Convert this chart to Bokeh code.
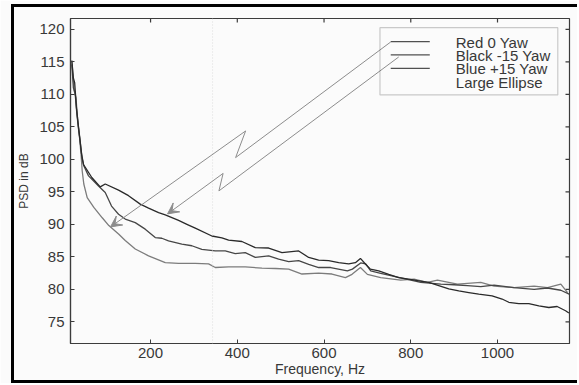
from bokeh.plotting import figure
from bokeh.models import (Range1d, FixedTicker, BoxAnnotation, Arrow,
                          VeeHead, Label, Span, InlineStyleSheet)
from bokeh.embed import file_html
from bokeh.resources import INLINE

# ---------------- data ----------------
x_ticks = [200, 400, 600, 800, 1000]
y_ticks = [75, 80, 85, 90, 95, 100, 105, 110, 115, 120]

legend_labels = ["Red 0 Yaw", "Black -15 Yaw", "Blue +15 Yaw", "Large Ellipse"]

black_hz = [18.5, 22, 25, 29, 33, 37, 41, 45.4, 64.5, 83.9, 95.5, 126.2, 149.2, 176.2,
            195.4, 218.5, 233.9, 264.6, 283.8, 303.1, 341.4, 364.5, 380, 410.6, 441.5,
            472.3, 503, 541.5, 564.6, 587.6, 610.7, 633.8, 656.9, 672.3, 683.9, 695.4,
            706.9, 726.1, 749.2, 772.2, 795.3, 818.4, 841.5, 864.5, 887.6, 910.7, 933.8,
            956.8, 987.5, 1010.6, 1026, 1049.1, 1072.2, 1095.3, 1118.3, 1137.5, 1156.9, 1164.5]
black_db = [115.2, 112.5, 111.8, 108.0, 105.5, 103.2, 100.8, 99.2, 97.2, 95.75, 96.2, 95.25,
            94.4, 93.1, 92.5, 91.8, 91.45, 90.6, 90.0, 89.4, 88.2, 87.9, 87.55, 87.35, 86.4,
            86.35, 85.65, 85.9, 84.9, 84.5, 84.4, 84.1, 83.9, 84.1, 84.75, 83.9, 83.1, 82.85,
            82.3, 81.8, 81.55, 81.3, 81.05, 80.55, 80.05, 79.75, 79.5, 79.25, 79.0, 78.5, 78.0,
            77.8, 77.8, 77.45, 77.2, 77.35, 76.7, 76.35]

blue_hz = [18.5, 22, 26, 30, 34, 38, 42, 46, 57, 80, 95.5, 110, 126.2, 141.6, 164.7, 187.7,
           210.8, 226, 241.4, 272.1, 295.2, 318.2, 349.1, 372.2, 395.2, 418.3, 441.5, 472.3,
           495.3, 518.4, 541.5, 564.6, 587.6, 615.3, 653.9, 665.4, 684.5, 696, 707.6, 730.7,
           776.9, 823, 869.2, 899.8, 930.6, 961.4, 992.1, 1038.3, 1084.4, 1115.3, 1146, 1165.2]
blue_db = [114.6, 111.0, 110.2, 107.0, 104.6, 102.5, 100.2, 99.0, 97.45, 95.9, 94.9, 92.8,
           91.55, 90.8, 90.25, 89.25, 87.95, 87.85, 87.45, 86.95, 86.7, 86.15, 85.9, 85.9,
           85.5, 85.65, 84.9, 85.15, 84.65, 84.25, 84.4, 83.85, 83.35, 83.35, 82.85, 83.1,
           84.05, 83.9, 82.85, 82.45, 81.75, 81.05, 80.8, 80.7, 80.55, 80.4, 80.65, 80.25,
           80.0, 80.2, 79.85, 79.25]

red_hz = [18.5, 21, 24, 28, 32, 36, 40, 42.4, 46.1, 53.9, 69.2, 88.6, 103.8, 126.2, 141.6,
          164.7, 195.4, 233.9, 264.6, 303.1, 333.8, 349.3, 380, 418.5, 456.8, 487.7, 518.4,
          549.1, 587.6, 618.3, 649.3, 664.5, 683.9, 700, 730.7, 776.9, 807.5, 838.5, 861.5,
          907.7, 961.4, 992.1, 1038.3, 1084.4, 1115.3, 1146, 1161.5]
red_db = [115.0, 113.0, 110.5, 109.5, 106.0, 103.5, 100.5, 98.2, 96.2, 94.1, 92.6, 91.0, 89.8,
          88.5, 87.5, 86.2, 85.15, 84.1, 84.0, 84.0, 83.9, 83.35, 83.45, 83.45, 83.25, 83.2,
          83.1, 82.35, 82.5, 82.35, 81.8, 82.3, 83.35, 82.3, 81.8, 81.4, 81.55, 81.05, 81.4,
          80.8, 81.05, 80.5, 80.25, 80.5, 80.25, 80.8, 79.5]

# ---------------- styling ----------------
FONT = "Liberation Sans"
TXT = "#383838"
FRAME = "#3c3c3c"
BG = "#fbfbfb"

X0, X1 = 15.4, 1166.0
Y0, Y1 = 71.66, 121.66

p = figure(width=577, height=383, output_backend="svg", toolbar_location=None,
           x_range=Range1d(X0, X1), y_range=Range1d(Y0, Y1),
           min_border_left=70, min_border_right=8, min_border_top=18, min_border_bottom=40,
           background_fill_color=BG, border_fill_color=BG)
p.outline_line_color = FRAME
p.outline_line_width = 1.2
p.xgrid.visible = False
p.ygrid.visible = False

for ax, ticks in ((p.xaxis[0], x_ticks), (p.yaxis[0], y_ticks)):
    ax.ticker = FixedTicker(ticks=ticks)
    ax.axis_line_color = FRAME
    ax.axis_line_width = 1.2
    ax.major_tick_line_color = FRAME
    ax.major_tick_in = 4
    ax.major_tick_out = 0
    ax.minor_tick_in = 0
    ax.minor_tick_out = 0
    ax.major_label_text_font = FONT
    ax.major_label_text_color = TXT
    ax.major_label_text_font_size = "15px"
    ax.axis_label_text_font = FONT
    ax.axis_label_text_color = TXT
    ax.axis_label_text_font_style = "normal"

p.xaxis[0].axis_label = "Frequency, Hz"
p.xaxis[0].axis_label_text_font_size = "14px"
p.xaxis[0].major_label_standoff = 4
p.xaxis[0].axis_label_standoff = 0
p.yaxis[0].axis_label = "PSD in dB"
p.yaxis[0].axis_label_text_font_size = "12px"
p.yaxis[0].major_label_standoff = 6
p.yaxis[0].axis_label_standoff = 5

# inward ticks on the top and right edges of the box
tick_dy = 4 * (Y1 - Y0) / 325.0
tick_dx = 4 * (X1 - X0) / 499.0
p.segment(x0=x_ticks, y0=[Y1] * len(x_ticks), x1=x_ticks, y1=[Y1 - tick_dy] * len(x_ticks),
          line_color=FRAME, line_width=1.2)
p.segment(x0=[X1] * len(y_ticks), y0=y_ticks, x1=[X1 - tick_dx] * len(y_ticks), y1=y_ticks,
          line_color=FRAME, line_width=1.2)

# faint scan fold line
p.add_layout(Span(location=343, dimension="height", line_color="#dcdcdc",
                  line_dash="1 2", line_width=1))

# ---------------- curves ----------------
p.line(red_hz, red_db, line_color="#7c7c7c", line_width=1.3)
p.line(blue_hz, blue_db, line_color="#474747", line_width=1.3)
p.line(black_hz, black_db, line_color="#2a2a2a", line_width=1.3)

# ---------------- legend box ----------------
p.add_layout(BoxAnnotation(left=729, right=1139, top=120.25, bottom=109.9,
                           fill_alpha=0, line_color="#555555", line_width=1.2))
leg_line_y = [118.09, 116.05, 114.0]
for yy in leg_line_y:
    p.line([753.8, 843.8], [yy, yy], line_color="#505050", line_width=1.2)
leg_text_y = [117.94, 116.0, 113.94, 111.79]
for lab, yy in zip(legend_labels, leg_text_y):
    p.add_layout(Label(x=903.8, y=yy, text=lab, text_font=FONT, text_font_size="15px",
                       text_color=TXT, text_baseline="middle"))

# ---------------- lightning arrows ----------------
ARW = "#8c8c8c"
p.line([753.8, 396.1, 419.2], [118.05, 100.26, 104.36], line_color=ARW, line_width=1.0)
p.add_layout(Arrow(x_start=419.2, y_start=104.36, x_end=107.7, y_end=89.6,
                   line_color=ARW, line_width=1.0,
                   end=VeeHead(size=11, line_color=ARW, fill_color=ARW, line_width=1)))
p.line([772.2, 357.6, 367.3], [115.74, 95.14, 97.83], line_color=ARW, line_width=1.0)
p.add_layout(Arrow(x_start=367.3, y_start=97.83, x_end=239.2, y_end=91.6,
                   line_color=ARW, line_width=1.0,
                   end=VeeHead(size=11, line_color=ARW, fill_color=ARW, line_width=1)))

# ---------------- outer scanned border (left, top, bottom) ----------------
p.stylesheets = [InlineStyleSheet(css=(
    ":host { position: relative; }"
    ":host::after { content: ''; position: absolute; left: 11px; top: 4px;"
    " width: 566px; height: 379px; box-sizing: border-box; background: transparent;"
    " border-left: 3px solid #000; border-top: 3px solid #000;"
    " border-bottom: 3px solid #000; pointer-events: none; z-index: 10; }"
))]

open("out.html", "w").write(file_html(p, INLINE))
